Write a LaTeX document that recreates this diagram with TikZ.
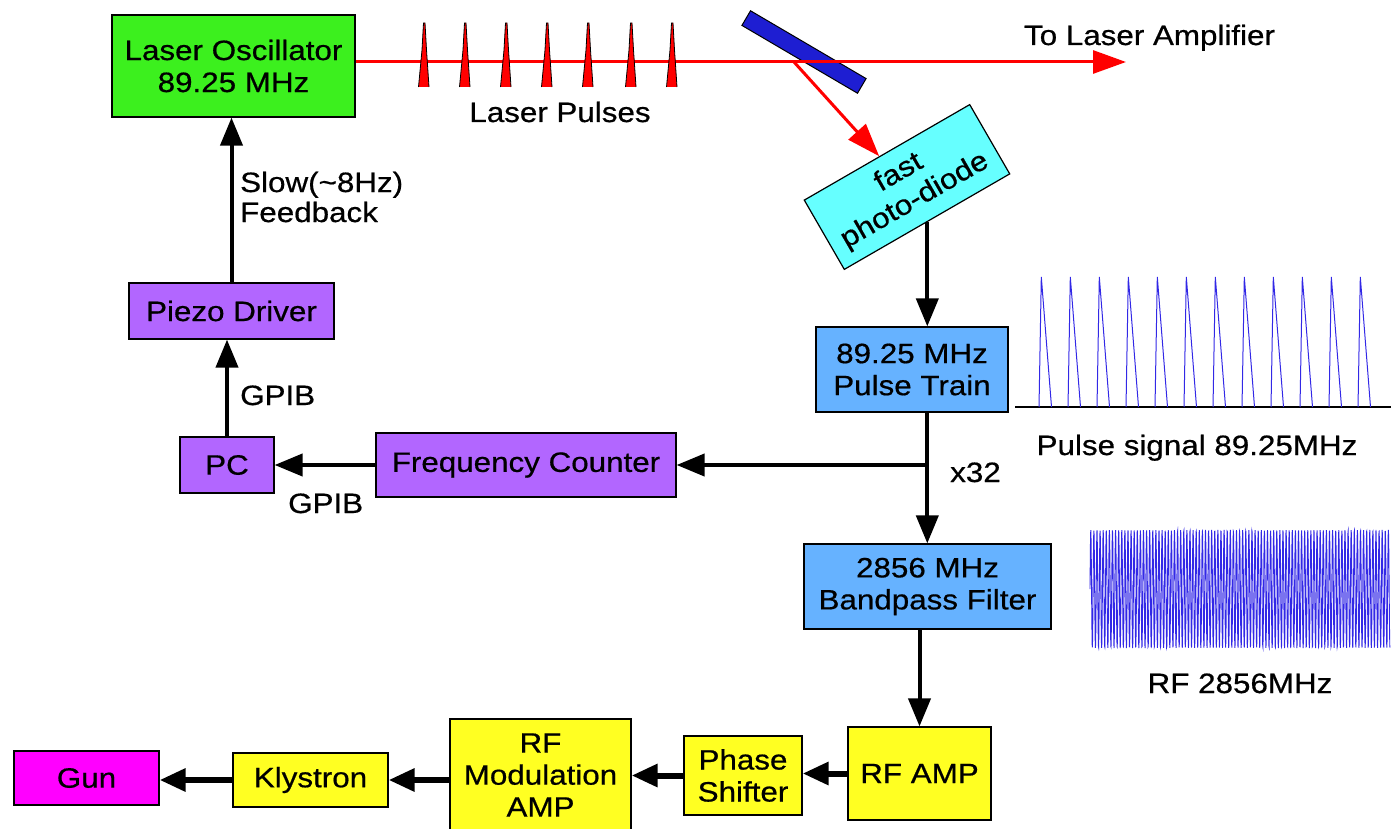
\documentclass[tikz,border=0pt]{standalone}
\usepackage{fontspec}
\setmainfont{Liberation Sans}[FakeStretch=1.12,FakeBold=0.6]
\usetikzlibrary{arrows.meta}
\definecolor{oscgreen}{RGB}{60,240,30}
\definecolor{purp}{RGB}{178,102,255}
\definecolor{lblue}{RGB}{102,178,255}
\definecolor{cyanb}{RGB}{102,255,255}
\definecolor{yel}{RGB}{255,255,34}
\definecolor{mag}{RGB}{255,0,255}
\definecolor{mirr}{RGB}{30,30,210}
\definecolor{wave}{RGB}{50,40,230}
\begin{document}
\begin{tikzpicture}[x=1pt,y=-1pt,
  box/.style={draw=black, line width=1.2pt, inner sep=0pt, align=center,
    font=\fontsize{28}{32}\selectfont},
  lbl/.style={inner sep=0pt, align=left, font=\fontsize{28}{30}\selectfont},
  arr/.style={line width=4pt, -{Triangle[length=28pt,width=22pt]}},
  harr/.style={line width=6pt, -{Triangle[length=26pt,width=22pt]}},
  beam/.style={red, line width=3pt},
  redtip/.style={-{Triangle[length=33pt,width=23pt]}},
  sig/.style={wave, line width=1pt},
]
\useasboundingbox (0,0) rectangle (1391,829);

% boxes
\node[box, fill=oscgreen, minimum width=243pt, minimum height=102pt] (osc) at (233.5,66) {Laser Oscillator\\89.25 MHz};
\node[box, fill=purp, minimum width=205pt, minimum height=56pt] (piezo) at (231.5,311) {Piezo Driver};
\node[box, fill=purp, minimum width=94pt, minimum height=56pt] (pc) at (227,465) {PC};
\node[box, fill=purp, minimum width=300pt, minimum height=64pt] (freq) at (526,465) {Frequency Counter};
\node[box, fill=cyanb, minimum width=191pt, minimum height=80pt, rotate=30] (pd) at (907,187) {fast\\photo-diode};
\node[box, fill=lblue, minimum width=192pt, minimum height=85pt] (pulse) at (912,369.5) {89.25 MHz\\Pulse Train};
\node[box, fill=lblue, minimum width=247pt, minimum height=85pt] (bpf) at (927.5,586.5) {2856 MHz\\Bandpass Filter};
\node[box, fill=yel, minimum width=143pt, minimum height=93pt] (rfamp) at (919.5,773.5) {RF AMP};
\node[box, fill=yel, minimum width=118pt, minimum height=79pt] (phase) at (743,775.5) {Phase\\Shifter};
\node[box, fill=yel, minimum width=181pt, minimum height=112pt] (rfmod) at (540.5,775) {RF\\Modulation\\AMP};
\node[box, fill=yel, minimum width=155pt, minimum height=54pt] (kly) at (310.5,780) {Klystron};
\node[box, fill=mag, minimum width=145pt, minimum height=54pt] (gun) at (86.5,778) {Gun};

% mirror
\node[draw=black, fill=mirr, line width=1pt, minimum width=134pt, minimum height=17pt, inner sep=0pt, rotate=-30.4] (mirror) at (804,52) {};

% laser beam
\coordinate (amp) at (1126,62);
\coordinate (hit) at (794,62);
\draw[beam, redtip] (osc.east |- amp) -- (amp);
\draw[beam, redtip] (hit) -- (pd);

% laser pulses
\foreach \x in {424,465,506,547,588,631,672} {
  \fill[red] (\x-5.5,87) -- (\x-2,50) -- (\x-0.5,23) -- (\x+1,23) -- (\x+2.5,50) -- (\x+5,87) -- cycle;
  \draw[black, line width=0.8pt] (\x-5.5,87) -- (\x-2,50) -- (\x-0.5,23) -- (\x+1,23) -- (\x+2.5,50) -- (\x+5,87);
}

% black arrows
\draw[arr] (piezo.north) -- (piezo.north |- osc.south);
\draw[arr] (pc.north) -- (pc.north |- piezo.south);
\draw[arr] (freq.west) -- (pc.east);
\draw[arr] (pd.south) -- (pd.south |- pulse.north);
\coordinate (br) at (pd.south |- freq.east);
\draw[line width=4pt] (pd.south |- pulse.south) -- (br);
\draw[arr] (br) -- (freq.east);
\draw[arr] (br) -- (pd.south |- bpf.north);
\draw[arr] (rfamp.north |- bpf.south) -- (rfamp.north);
\draw[harr] (rfamp.west) -- (rfamp.west -| phase.east);
\draw[harr] (phase.west) -- (phase.west -| rfmod.east);
\draw[harr] (rfmod.west |- kly.east) -- (kly.east);
\draw[harr] (kly.west) -- (kly.west -| gun.east);

% labels
\node[lbl, anchor=west] (fb) at (240,197) {Slow(\textasciitilde8Hz)\\Feedback};
\node[lbl, anchor=base west] (g1) at (240,405) {GPIB};
\node[lbl, anchor=base west] (g2) at (288,513) {GPIB};
\node[lbl, anchor=base west] (x32) at (950,482) {x32};
\node[lbl, anchor=base] (lp) at (560,122) {Laser Pulses};
\node[lbl, anchor=base] (tla) at (1149.5,45) {To Laser Amplifier};
\node[lbl, anchor=base] (ps) at (1197,455) {Pulse signal 89.25MHz};
\node[lbl, anchor=base] (rf) at (1240,693) {RF 2856MHz};

% pulse signal
\coordinate (s0) at (1015,407);
\coordinate (s1) at (1391,407);
\draw[black, line width=2pt] (s0) -- (s1);
\foreach \i in {0,...,11} {
  \draw[sig] ({1039+29*\i},407) -- ({1041.3+29*\i},277) -- ({1051.5+29*\i},407);
}

% RF waveform
\draw[wave, line width=0.9pt] plot[domain=0:300, samples=1500] ({1090+\x},{589-59*sin(360*mod(\x,3.1)/3.1)});
\end{tikzpicture}
\end{document}
